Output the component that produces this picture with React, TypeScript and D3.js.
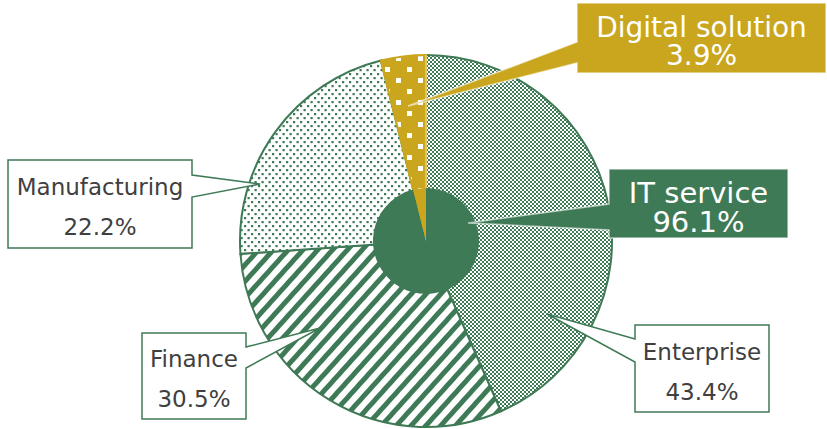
import React from "react";
import * as d3 from "d3";

const outerCategories = ["Enterprise", "Finance", "Manufacturing", "Digital solution"];
const outerValues = [43.4, 30.5, 22.2, 3.9];
const innerCategories = ["IT service", "Digital solution"];
const innerValues = [96.1, 3.9];

const GREEN = "#3f7a56";
const GOLD = "#c9a61e";
const TEXT = "#404040";
const FONT = "'DejaVu Sans', Verdana, sans-serif";

const W = 827;
const H = 429;
const CX = 426;
const CY = 241;
const R = 186;
const RI = 53;

const outerFills = ["url(#pEnt)", "url(#pFin)", "url(#pMan)", "url(#pDig)"];
const outerStrokes = [GREEN, GREEN, GREEN, GOLD];
const innerFills = [GREEN, GOLD];

type Callout = {
  label: string;
  value: string;
  box: [number, number, number, number];
  side: "left" | "right";
  base: [number, number];
  tip: [number, number];
  filled: string | null;
  size: number;
  lines: [number, number];
};

const callouts: Callout[] = [
  { label: "Digital solution", value: "3.9%", box: [577, 3, 826, 73], side: "left", base: [42, 63], tip: [408, 106], filled: GOLD, size: 28, lines: [37, 65] },
  { label: "IT service", value: "96.1%", box: [609, 169, 788, 238], side: "left", base: [204, 230], tip: [468, 223], filled: GREEN, size: 29, lines: [203, 232] },
  { label: "Enterprise", value: "43.4%", box: [635, 325, 769, 412], side: "left", base: [339, 362], tip: [547, 314], filled: null, size: 23, lines: [360, 400] },
  { label: "Finance", value: "30.5%", box: [142, 333, 246, 419], side: "right", base: [347, 368], tip: [320, 328], filled: null, size: 23, lines: [367, 407] },
  { label: "Manufacturing", value: "22.2%", box: [8, 160, 192, 248], side: "right", base: [175, 197], tip: [260, 184], filled: null, size: 23, lines: [195, 235] },
];

function calloutPath(c: Callout) {
  const [x0, y0, x1, y1] = c.box;
  const [b0, b1] = c.base;
  const [tx, ty] = c.tip;
  if (c.side === "right") {
    return `M${x0},${y0}H${x1}V${b0}L${tx},${ty}L${x1},${b1}V${y1}H${x0}Z`;
  }
  return `M${x0},${y0}H${x1}V${y1}H${x0}V${b1}L${tx},${ty}L${x0},${b0}Z`;
}

export default function App() {
  const pie = d3.pie<number>().sort(null).value((d) => d);
  const outerArcs = pie(outerValues);
  const innerArcs = pie(innerValues);
  const arcOuter = d3.arc<d3.PieArcDatum<number>>().innerRadius(0).outerRadius(R);
  const arcInner = d3.arc<d3.PieArcDatum<number>>().innerRadius(0).outerRadius(RI);

  return (
    <svg width={W} height={H} style={{ position: "absolute", left: 0, top: 0 }}>
      <defs>
        <pattern id="pEnt" patternUnits="userSpaceOnUse" width={4} height={4}>
          <rect width={4} height={4} fill="#fff" />
          <rect x={0} y={0} width={2} height={2} fill={GREEN} />
          <rect x={2} y={2} width={2} height={2} fill={GREEN} />
        </pattern>
        <pattern id="pFin" patternUnits="userSpaceOnUse" width={11} height={11} patternTransform="rotate(42)">
          <rect width={11} height={11} fill="#fff" />
          <rect x={0} y={0} width={5} height={11} fill={GREEN} />
        </pattern>
        <pattern id="pMan" patternUnits="userSpaceOnUse" width={7} height={8}>
          <rect width={7} height={8} fill="#fff" />
          <rect x={0} y={0} width={2.2} height={2.2} fill={GREEN} />
          <rect x={3.5} y={4} width={2.2} height={2.2} fill={GREEN} />
        </pattern>
        <pattern id="pDig" patternUnits="userSpaceOnUse" width={22} height={22} x={3} y={2}>
          <rect width={22} height={22} fill={GOLD} />
          <rect x={0} y={0} width={5} height={5} fill="#fff" />
          <rect x={11} y={11} width={5} height={5} fill="#fff" />
        </pattern>
      </defs>
      <g transform={`translate(${CX},${CY})`}>
        {outerArcs.map((a, i) => (
          <path key={outerCategories[i]} d={arcOuter(a) || ""} fill={outerFills[i]} stroke={outerStrokes[i]} strokeWidth={2} />
        ))}
        <line x1={0} y1={0} x2={0} y2={-R} stroke="#fff" strokeOpacity={0.7} strokeWidth={1} />
        {innerArcs.map((a, i) => (
          <path key={innerCategories[i]} d={arcInner(a) || ""} fill={innerFills[i]} stroke="none" />
        ))}
      </g>
      {callouts.map((c) => {
        const cx = (c.box[0] + c.box[2]) / 2;
        const filled = c.filled !== null;
        return (
          <g key={c.label}>
            <path
              d={calloutPath(c)}
              fill={filled ? c.filled! : "#fff"}
              stroke={filled ? "#ffffff" : GREEN}
              strokeOpacity={filled ? 0.6 : 1}
              strokeWidth={1.5}
            />
            <text x={cx} y={c.lines[0]} textAnchor="middle" fontFamily={FONT} fontSize={c.size} fill={filled ? "#fff" : TEXT}>
              {c.label}
            </text>
            <text x={cx} y={c.lines[1]} textAnchor="middle" fontFamily={FONT} fontSize={c.size} fill={filled ? "#fff" : TEXT}>
              {c.value}
            </text>
          </g>
        );
      })}
    </svg>
  );
}
